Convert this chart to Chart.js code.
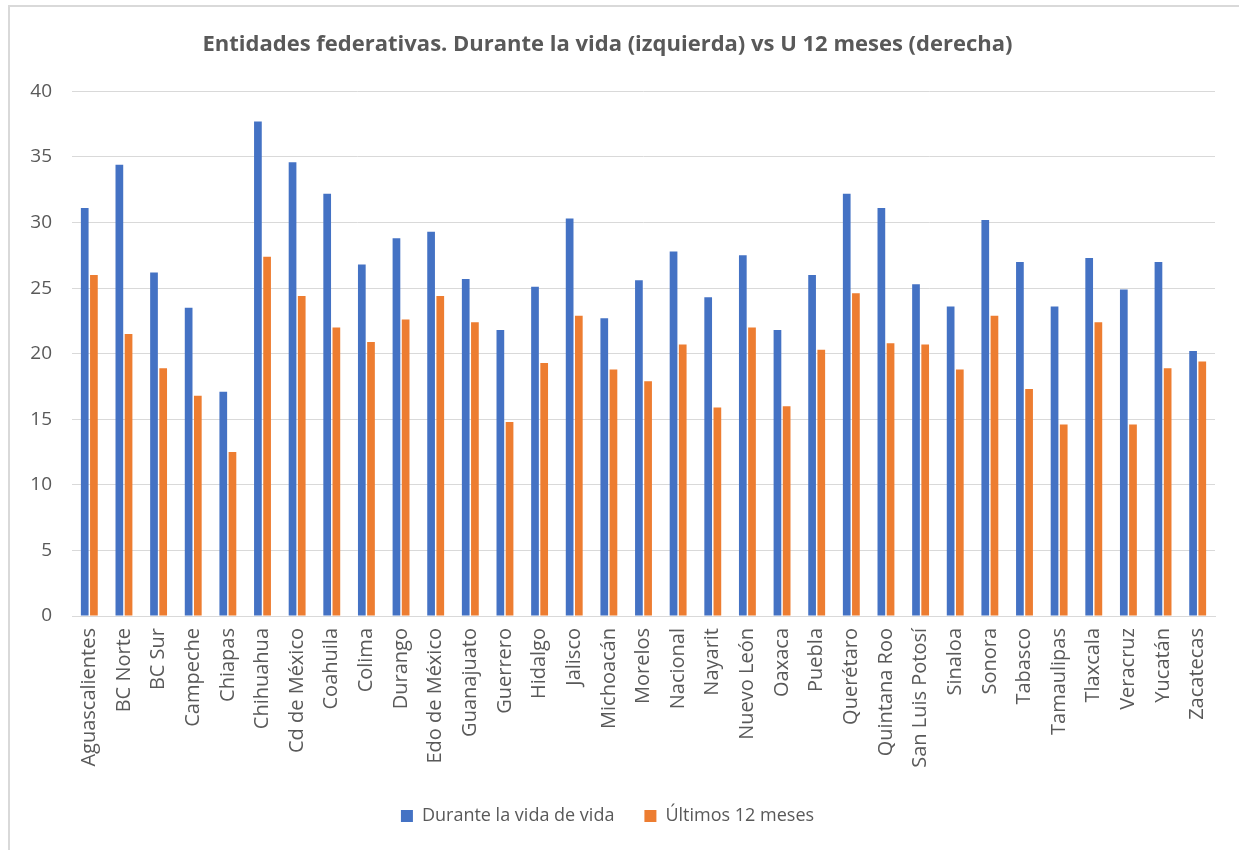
<!DOCTYPE html>
<html>
<head>
<meta charset="utf-8">
<script src="https://cdn.jsdelivr.net/npm/chart.js@4/dist/chart.umd.min.js"></script>
<style>
  html, body { margin:0; padding:0; background:#fff; }
  #wrap { position:relative; width:1239px; height:850px; overflow:hidden; }
  #frame { position:absolute; left:8px; top:5px; width:1260px; height:900px;
           border-top:2px solid #d9d9d9; border-left:2px solid #d9d9d9; }
  canvas { position:absolute; left:0; top:0; }
</style>
</head>
<body>
<div id="wrap">
  <div id="frame"></div>
  <canvas id="chart" width="1239" height="850"></canvas>
</div>
<script>
/* ── Data ─────────────────────────────────────────── */
const estados = [
  'Aguascalientes','BC Norte','BC Sur','Campeche','Chiapas','Chihuahua',
  'Cd de México','Coahuila','Colima','Durango','Edo de México','Guanajuato',
  'Guerrero','Hidalgo','Jalisco','Michoacán','Morelos','Nacional','Nayarit',
  'Nuevo León','Oaxaca','Puebla','Querétaro','Quintana Roo','San Luis Potosí',
  'Sinaloa','Sonora','Tabasco','Tamaulipas','Tlaxcala','Veracruz','Yucatán','Zacatecas'
];

const duranteVida = [
  31.1, 34.4, 26.2, 23.5, 17.1, 37.7,
  34.6, 32.2, 26.8, 28.8, 29.3, 25.7,
  21.8, 25.1, 30.3, 22.7, 25.6, 27.8, 24.3,
  27.5, 21.8, 26.0, 32.2, 31.1, 25.3,
  23.6, 30.2, 27.0, 23.6, 27.3, 24.9, 27.0, 20.2
];

const ultimos12 = [
  26.0, 21.5, 18.9, 16.8, 12.5, 27.4,
  24.4, 22.0, 20.9, 22.6, 24.4, 22.4,
  14.8, 19.3, 22.9, 18.8, 17.9, 20.7, 15.9,
  22.0, 16.0, 20.3, 24.6, 20.8, 20.7,
  18.8, 22.9, 17.3, 14.6, 22.4, 14.6, 18.9, 19.4
];

const yTicks = [0, 5, 10, 15, 20, 25, 30, 35, 40];

/* ── Styles ───────────────────────────────────────── */
const TXT  = '#595959';
const GRID = '#d9d9d9';
const FONT = "'Open Sans', 'DejaVu Sans', sans-serif";

new Chart(document.getElementById('chart'), {
  type: 'bar',
  data: {
    labels: estados,
    datasets: [
      { label: 'Durante la vida de vida', data: duranteVida,
        backgroundColor: '#4472C4', borderWidth: 0,
        categoryPercentage: 0.53, barPercentage: 0.84 },
      { label: 'Últimos 12 meses', data: ultimos12,
        backgroundColor: '#ED7D31', borderWidth: 0,
        categoryPercentage: 0.53, barPercentage: 0.84 }
    ]
  },
  options: {
    responsive: false,
    animation: false,
    layout: { padding: { left: 0, right: 24, top: 0, bottom: 15 } },
    plugins: {
      title: {
        display: true,
        text: 'Entidades federativas. Durante la vida (izquierda) vs U 12 meses (derecha)',
        color: TXT,
        font: { family: FONT, size: 22, weight: 'bold' },
        padding: { top: 32, bottom: 33 }
      },
      legend: {
        position: 'bottom',
        labels: {
          color: TXT,
          font: { family: FONT, size: 18 },
          boxWidth: 12, boxHeight: 12,
          padding: 30
        }
      },
      tooltip: { enabled: false }
    },
    scales: {
      x: {
        grid: { display: false, drawTicks: false },
        border: { color: GRID, width: 1 },
        ticks: {
          color: TXT, font: { family: FONT, size: 20 },
          maxRotation: 90, minRotation: 90, autoSkip: false, padding: 12
        },
        afterFit: s => { s.height = 161; }
      },
      y: {
        min: 0, max: 40,
        afterBuildTicks: s => { s.ticks = yTicks.map(v => ({ value: v })); },
        grid: { color: GRID, lineWidth: 1, drawTicks: false },
        border: { display: false },
        ticks: { color: TXT, font: { family: FONT, size: 19 }, padding: 20 },
        afterFit: s => { s.width = 72; }
      }
    }
  }
});
</script>
</body>
</html>
